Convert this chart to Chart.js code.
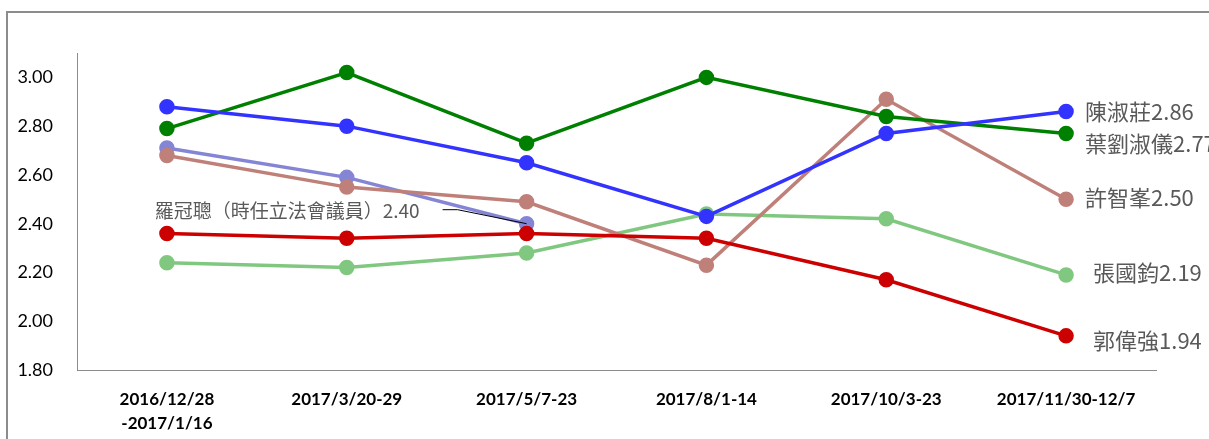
<!DOCTYPE html>
<html>
<head>
<meta charset="utf-8">
<script src="https://cdn.jsdelivr.net/npm/chart.js@4/dist/chart.umd.min.js"></script>
<style>
  html, body { margin: 0; padding: 0; background: #fff; }
  #wrap { width: 1209px; height: 439px; position: relative; }
</style>
</head>
<body>
<div id="wrap"><canvas id="chart" width="1209" height="439"></canvas></div>
<script>
// survey periods
const periods = [
  ["2016/12/28", "-2017/1/16"],
  "2017/3/20-29",
  "2017/5/7-23",
  "2017/8/1-14",
  "2017/10/3-23",
  "2017/11/30-12/7"
];

const names = ["陳淑莊", "郭偉強", "葉劉淑儀", "許智峯", "羅冠聰（時任立法會議員）", "張國鈞"];

const chanShukChong = [2.88, 2.80, 2.65, 2.43, 2.77, 2.86];
const kwokWaiKeung  = [2.36, 2.34, 2.36, 2.34, 2.17, 1.94];
const ipLauSukYee   = [2.79, 3.02, 2.73, 3.00, 2.84, 2.77];
const huiChiFung    = [2.68, 2.55, 2.49, 2.23, 2.91, 2.50];
const lawKwunChung  = [2.71, 2.59, 2.40, null, null, null];
const cheungKwokKwan = [2.24, 2.22, 2.28, 2.44, 2.42, 2.19];

const yTicks = [1.8, 2.0, 2.2, 2.4, 2.6, 2.8, 3.0];

const seriesValues = [chanShukChong, kwokWaiKeung, ipLauSukYee, huiChiFung, lawKwunChung, cheungKwokKwan];
const colors = ["#3333ff", "#cc0000", "#008000", "#c0807a", "#8585d6", "#80c880"];
// label offset from the last point (style only)
const labelPos = [
  { dx: 19, dy: 0 },
  { dx: 27, dy: 5 },
  { dx: 19, dy: 10 },
  { dx: 19, dy: -2 },
  null,
  { dx: 27, dy: -2 }
];

const endLabels = {
  id: "endLabels",
  afterDatasetsDraw(chart) {
    const ctx = chart.ctx;
    ctx.save();
    chart.data.datasets.forEach((ds, i) => {
      const meta = chart.getDatasetMeta(i);
      let last = -1;
      ds.data.forEach((v, k) => { if (v !== null) last = k; });
      const pt = meta.data[last];
      const txt = names[i] + ds.data[last].toFixed(2);
      ctx.fillStyle = "#595959";
      ctx.textBaseline = "middle";
      if (labelPos[i]) {
        ctx.font = '22px "Noto Sans CJK TC"';
        ctx.textAlign = "left";
        ctx.fillText(txt, pt.x + labelPos[i].dx, pt.y + labelPos[i].dy);
      } else {
        ctx.font = '19px "Noto Sans CJK TC"';
        ctx.textAlign = "right";
        ctx.fillText(txt, pt.x - 107, pt.y - 13);
        ctx.strokeStyle = "#000";
        ctx.lineWidth = 1;
        ctx.beginPath();
        ctx.moveTo(pt.x - 84, pt.y - 14);
        ctx.lineTo(pt.x - 69, pt.y - 14);
        ctx.lineTo(pt.x, pt.y);
        ctx.stroke();
      }
    });
    // outer frame
    ctx.strokeStyle = "#8c8c8c";
    ctx.lineWidth = 2;
    ctx.beginPath();
    ctx.moveTo(7, 439);
    ctx.lineTo(7, 12);
    ctx.lineTo(1209, 12);
    ctx.stroke();
    ctx.restore();
  }
};

new Chart(document.getElementById("chart"), {
  type: "line",
  data: {
    labels: periods,
    datasets: seriesValues.map((vals, i) => ({
      label: names[i],
      data: vals,
      borderColor: colors[i],
      backgroundColor: colors[i],
      pointBackgroundColor: colors[i],
      pointBorderColor: colors[i],
      borderWidth: 3.5,
      pointRadius: 6,
      pointHoverRadius: 6,
      tension: 0,
      spanGaps: false
    }))
  },
  plugins: [endLabels],
  options: {
    responsive: false,
    animation: false,
    layout: { padding: { left: 0, right: 53, top: 53, bottom: 0 } },
    plugins: {
      legend: { display: false },
      tooltip: { enabled: false }
    },
    scales: {
      x: {
        offset: true,
        grid: { display: false, drawTicks: false },
        border: { display: true, color: "#8c8c8c", width: 1 },
        afterFit: (s) => { s.height = 69; },
        ticks: {
          padding: 17,
          maxRotation: 0,
          autoSkip: false,
          color: "#000",
          font: { family: "Lato", size: 17, weight: "bold", lineHeight: 1.45 }
        }
      },
      y: {
        min: 1.8,
        max: 3.1,
        grid: { display: false, drawTicks: false },
        border: { display: true, color: "#8c8c8c", width: 1 },
        afterFit: (s) => { s.width = 77; },
        afterBuildTicks: (s) => { s.ticks = yTicks.map(v => ({ value: v })); },
        ticks: {
          padding: 24,
          color: "#000",
          font: { family: "Lato", size: 18 },
          callback: (v) => Number(v).toFixed(2)
        }
      }
    }
  }
});
</script>
</body>
</html>
